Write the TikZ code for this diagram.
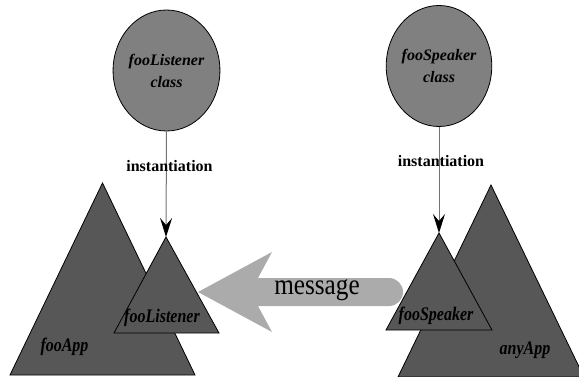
\documentclass[tikz,border=0pt]{standalone}
\usepackage{fontspec}
\setmainfont{Liberation Serif}
\usetikzlibrary{arrows.meta,shapes.geometric}
\definecolor{ellgray}{gray}{0.5}
\definecolor{trigray}{gray}{0.34}
\definecolor{msggray}{gray}{0.67}
\definecolor{linegray}{gray}{0.45}
\newcommand{\tallbox}[1]{\scalebox{1}[1.2]{#1}}
\begin{document}
\begin{tikzpicture}[x=1pt,y=-1pt,
  classnode/.style={ellipse,draw=black,fill=ellgray,line width=0.8pt,
    minimum width=103pt,minimum height=121pt,inner sep=0pt,align=center,
    font=\fontsize{16}{22}\selectfont\bfseries\itshape},
  tri/.style={draw=black,fill=trigray,line width=0.8pt},
  trilabel/.style={font=\fontsize{16}{19}\selectfont\bfseries\itshape,inner sep=0pt},
  instlabel/.style={font=\fontsize{16}{19}\selectfont\bfseries,inner sep=0pt},
  instarrow/.style={draw=linegray,line width=1pt,
    -{Stealth[length=19pt,width=12pt,inset=7pt,color=black]}},
  msgarrow/.style={fill=msggray}
]
\useasboundingbox (0,0) rectangle (579,376);

% classes
\node[classnode] (lclass) at (166.5,70.5) {fooListener\\class};
\node[classnode] (rclass) at (439,66) {fooSpeaker\\class};

% apex coordinates of instance triangles
\coordinate (lapex) at (166,237);
\coordinate (rapex) at (439,233);

% instantiation arrows
\draw[instarrow] (lclass.south) -- (lapex);
\draw[instarrow] (rclass.south) -- (rapex);

% application triangles
\draw[tri] (10,375) -- (102.5,183) -- (195,375) -- cycle;
\draw[tri] (398,377) -- (491,185) -- (584,377) -- cycle;

% instance triangles
\draw[tri] (114,333) -- (lapex) -- (219,333) -- cycle;
\draw[tri] (386,330) -- (rapex) -- (492,330) -- cycle;

% message arrow
\coordinate (msgtip) at (198,292);
\fill[msgarrow] (msgtip) -- (272,252) -- (258,278) -- (389,278)
  arc[start angle=-90,end angle=90,radius=14] -- (258,306) -- (272,332) -- cycle;

% labels
\node[instlabel] (linst) at (169.5,166) {instantiation};
\node[instlabel] (rinst) at (441,161) {instantiation};
\node[trilabel] (llab) at (162,318) {\tallbox{fooListener}};
\node[trilabel] (rlab) at (436,316) {\tallbox{fooSpeaker}};
\node[trilabel] (alab) at (64.5,347) {\tallbox{fooApp}};
\node[trilabel] (blab) at (525,350) {\tallbox{anyApp}};
\node[inner sep=0pt] (msg) at (317,290)
  {\scalebox{0.87}[1]{\fontsize{29}{32}\selectfont message}};
\end{tikzpicture}
\end{document}
